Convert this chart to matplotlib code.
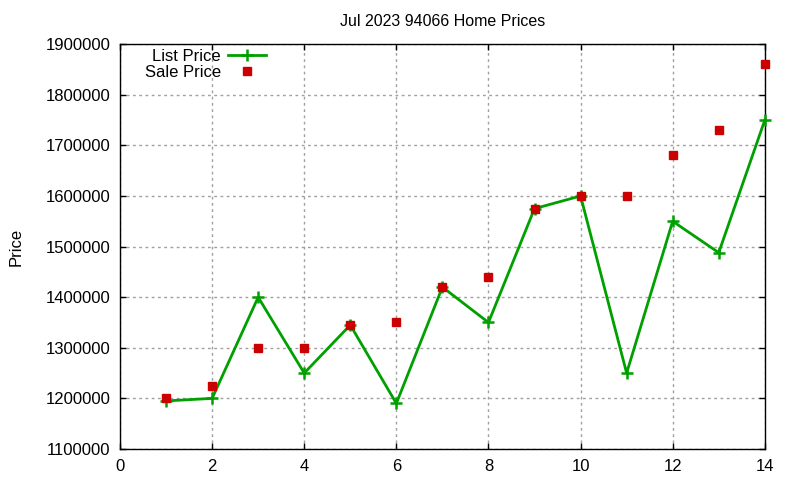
import matplotlib
matplotlib.use("Agg")
import matplotlib.pyplot as plt

x = list(range(1, 15))
list_price = [1195000, 1200000, 1400000, 1250000, 1345000, 1190000, 1420000,
              1350000, 1575000, 1600000, 1250000, 1550000, 1488000, 1750000]
sale_price = [1200000, 1225000, 1300000, 1300000, 1345000, 1350000, 1420000,
              1440000, 1575000, 1600000, 1600000, 1680000, 1730000, 1860000]
xticks = [0, 2, 4, 6, 8, 10, 12, 14]
yticks = [1100000, 1200000, 1300000, 1400000, 1500000, 1600000, 1700000, 1800000, 1900000]

plt.rcParams['font.family'] = ['Liberation Sans', 'DejaVu Sans']
fig = plt.figure(figsize=(8, 4.8), dpi=100)
ax = fig.add_axes([0.15, 0.0646, 0.806, 0.8434])

ax.plot(x, list_price, color='#00a000', lw=2, marker='+', ms=9, mew=1.8,
        label='List Price', zorder=3, clip_on=False)
ax.plot(x, sale_price, ls='none', color='#cc0000', marker='s', ms=6,
        label='Sale Price', zorder=4, clip_on=False)

ax.set_xlim(0, 14)
ax.set_ylim(1100000, 1900000)
ax.set_xticks(xticks)
ax.set_yticks(yticks)
ax.set_yticklabels([str(v) for v in yticks])
ax.tick_params(direction='in', top=True, right=True, labelsize=12, length=4, width=1, pad=7)
ax.grid(True, color='#a0a0a0', ls=(0, (2, 2.5)), lw=1)
for s in ax.spines.values():
    s.set_linewidth(1.0)
ax.set_title('Jul 2023 94066 Home Prices', fontsize=11.5, pad=13)
ax.set_ylabel('Price', fontsize=12, labelpad=16)

leg = fig.legend(loc='upper left', bbox_to_anchor=(145 / 800, 1 - 49 / 480), frameon=False,
                 markerfirst=False, fontsize=12, handlelength=2.3,
                 labelspacing=0.05, borderaxespad=0, borderpad=0, handletextpad=0.4)
for t in leg.get_texts():
    t.set_ha('right')
fig.savefig('out.png', dpi=100)
